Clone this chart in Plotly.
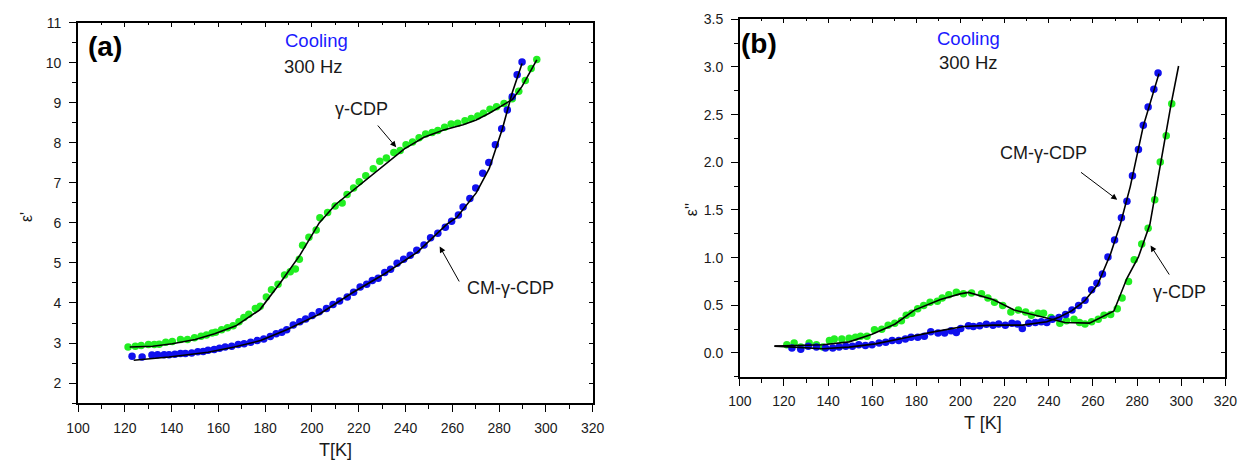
import plotly.graph_objects as go

W, H = 1257, 464

# ---------------- Panel (a): epsilon' ----------------
ga_T = [121.4,124.5,127.0,130.1,132.6,134.7,137.5,140.3,143.8,146.8,149.8,152.6,154.9,157.3,158.8,161.4,163.9,166.3,168.8,170.9,
        173.0,175.8,177.9,180.5,182.7,185.5,188.3,190.7,192.9,194.6,196.0,
        198.7,201.8,203.4,206.7,209.9,212.9,215.0,217.8,220.2,223.0,226.2,229.0,231.8,235.0,237.7,240.2,243.0,245.8,248.6,251.4,
        253.8,256.7,259.5,262.3,265.4,268.1,270.9,273.3,276.1,278.9,282.1,285.6,288.4,291.2,293.7,296.1]
ga_v = [2.90,2.92,2.94,2.96,2.96,2.97,3.02,3.04,3.09,3.09,3.13,3.17,3.20,3.25,3.27,3.33,3.38,3.43,3.53,3.64,
        3.72,3.86,3.92,4.15,4.33,4.47,4.70,4.78,4.85,5.09,5.44,
        5.64,5.82,6.13,6.26,6.42,6.50,6.71,6.87,7.03,7.18,7.35,7.54,7.62,7.76,7.81,7.95,8.02,8.13,8.22,8.26,
        8.31,8.39,8.47,8.49,8.55,8.61,8.67,8.74,8.84,8.90,8.98,9.10,9.29,9.56,9.86,10.08]

ba_T = [123.1,127.4,131.6,134.0,136.8,138.9,141.4,143.8,145.9,148.6,151.2,153.5,155.6,158.2,160.5,162.9,165.7,168.5,171.0,173.8,
        176.6,179.4,182.2,184.7,187.1,189.2,
        192.0,194.8,197.3,200.1,203.1,206.2,209.0,211.8,215.1,217.8,220.6,223.4,225.8,228.3,231.1,233.6,236.4,239.2,242.0,244.8,
        247.9,250.7,253.8,257.0,
        259.7,262.6,264.6,267.5,270.0,273.0,275.6,278.4,281.1,283.5,285.6,287.7,289.8]
ba_v = [2.67,2.65,2.70,2.71,2.71,2.71,2.72,2.74,2.74,2.75,2.78,2.79,2.82,2.84,2.87,2.90,2.92,2.96,2.98,3.02,
        3.06,3.10,3.16,3.23,3.27,3.33,
        3.45,3.53,3.60,3.69,3.78,3.86,3.96,4.05,4.15,4.27,4.40,4.47,4.56,4.62,4.76,4.84,4.99,5.09,5.19,5.32,
        5.45,5.63,5.74,5.89,
        6.04,6.20,6.40,6.61,6.87,7.24,7.51,7.95,8.35,8.82,9.15,9.70,10.02]

fit_ga_T = [122.1,131.9,140.3,150.1,158.4,167.5,177.7,186.4,194.8,203.1,210.1,217.1,224.1,231.1,239.5,247.9,256.3,264.6,270.2,275.8,281.4,285.6,289.8,296.1]
fit_ga_v = [2.90,2.92,2.98,3.09,3.23,3.43,3.83,4.50,5.19,6.00,6.46,6.79,7.12,7.46,7.85,8.14,8.32,8.45,8.57,8.74,8.94,9.08,9.41,10.07]

fit_ba_T = [123.8,138.9,155.6,166.8,178.0,189.2,203.1,217.1,231.1,245.1,257.7,261.8,270.2,275.8,281.4,285.6,289.8]
fit_ba_v = [2.57,2.65,2.77,2.90,3.06,3.33,3.72,4.25,4.73,5.27,5.97,6.13,6.75,7.36,8.35,9.25,9.98]

# ---------------- Panel (b): epsilon'' ----------------
gb_T = [121.3,124.6,127.6,131.4,134.7,137.6,140.6,142.8,146.2,149.5,152.4,154.7,157.6,161.0,164.3,167.2,170.2,173.2,175.4,177.9,
        180.6,183.3,186.2,189.5,191.7,194.7,198.1,201.3,205.0,
        209.5,212.4,215.4,219.1,222.8,226.2,229.5,232.1,235.1,237.6,241.0,245.0,248.0,251.4,253.9,256.4,259.4,262.4,265.0,268.0,
        271.0,273.2,276.1,278.7,282.1,285.0,
        288.0,290.5,293.2,295.7]
gb_v = [0.086,0.106,0.062,0.106,0.086,0.062,0.131,0.148,0.148,0.155,0.165,0.175,0.175,0.244,0.250,0.292,0.313,0.337,0.395,0.416,
        0.464,0.498,0.533,0.543,0.577,0.612,0.636,0.622,0.629,
        0.622,0.577,0.533,0.498,0.430,0.450,0.430,0.395,0.416,0.416,0.371,0.313,0.337,0.354,0.320,0.303,0.327,0.354,0.395,0.405,
        0.464,0.577,0.749,0.979,1.144,1.309,
        1.608,2.003,2.278,2.615]

bb_T = [123.6,127.6,131.0,134.7,138.8,142.1,145.0,148.0,151.0,153.9,156.9,159.9,163.1,166.1,169.0,172.0,175.0,177.6,180.6,183.6,
        186.5,189.8,192.8,195.7,198.1,200.1,203.6,205.8,
        208.7,211.7,214.7,217.3,220.3,223.3,225.8,228.0,230.9,233.9,236.6,239.1,241.6,244.6,247.6,250.5,253.5,256.4,259.4,261.8,
        264.3,266.8,269.8,
        272.9,275.4,277.9,280.6,282.8,285.0,287.6,289.5]
bb_v = [0.052,0.038,0.072,0.062,0.052,0.052,0.062,0.072,0.072,0.086,0.079,0.086,0.106,0.113,0.131,0.131,0.148,0.165,0.165,0.175,
        0.223,0.209,0.209,0.233,0.216,0.258,0.285,0.278,
        0.285,0.302,0.292,0.303,0.292,0.313,0.303,0.258,0.313,0.320,0.327,0.320,0.354,0.371,0.405,0.450,0.498,0.553,0.663,0.732,
        0.828,1.007,1.186,
        1.419,1.591,1.859,2.134,2.388,2.581,2.766,2.938]

fit_gb_T = [115.7,137.6,149.5,159.9,170.2,179.1,190.9,199.8,203.6,214.7,224.3,236.9,247.3,258.4,269.5,275.4,280.6,285.8,291.7,295.4,298.8]
fit_gb_v = [0.072,0.086,0.117,0.196,0.302,0.450,0.560,0.620,0.636,0.560,0.450,0.381,0.320,0.313,0.440,0.784,1.007,1.350,2.140,2.610,3.010]

fit_bb_T = [115.7,137.6,149.5,161.4,176.2,186.5,201.3,214.7,228.0,239.1,244.3,250.2,256.1,262.1,268.0,272.4,276.9,282.8,289.9]
fit_bb_v = [0.072,0.045,0.062,0.096,0.165,0.216,0.278,0.292,0.292,0.327,0.371,0.440,0.543,0.715,1.040,1.350,1.745,2.380,2.930]

GREEN = "#22ee22"
BLUE = "#1010ee"
FONT = "Liberation Sans, Arial, sans-serif"
INK = "#1a1a1a"

fig = go.Figure()

def pts(x, y, color, xa, ya):
    fig.add_trace(go.Scatter(x=x, y=y, mode="markers", xaxis=xa, yaxis=ya,
                             marker=dict(size=7.5, color=color, line=dict(width=0)),
                             showlegend=False, hoverinfo="skip"))

def fit(x, y, xa, ya):
    fig.add_trace(go.Scatter(x=x, y=y, mode="lines", xaxis=xa, yaxis=ya,
                             line=dict(color="black", width=1.6),
                             showlegend=False, hoverinfo="skip"))

pts(ga_T, ga_v, GREEN, "x", "y")
pts(ba_T, ba_v, BLUE, "x", "y")
fit(fit_ga_T, fit_ga_v, "x", "y")
fit(fit_ba_T, fit_ba_v, "x", "y")

pts(gb_T, gb_v, GREEN, "x2", "y2")
pts(bb_T, bb_v, BLUE, "x2", "y2")
fit(fit_gb_T, fit_gb_v, "x2", "y2")
fit(fit_bb_T, fit_bb_v, "x2", "y2")

# dummy traces to activate mirror axes (inside ticks on top / right)
for xa, ya in [("x3", "y"), ("x", "y3"), ("x4", "y2"), ("x2", "y4")]:
    fig.add_trace(go.Scatter(x=[None], y=[None], xaxis=xa, yaxis=ya, showlegend=False, hoverinfo="skip"))

xa_dom = [67.3 / W, 592 / W]
ya_dom = [1 - 402 / H, 1 - 15 / H]
xb_dom = [742 / W, 1237 / W]
yb_dom = [1 - 375.3 / H, 1 - 11.5 / H]

tickfont = dict(family=FONT, size=14, color=INK)

def xaxis(dom, anchor):
    return dict(domain=dom, anchor=anchor, range=[100, 320], dtick=20, tick0=100,
                ticks="outside", ticklen=7, tickwidth=1.3, tickcolor="black",
                minor=dict(dtick=10, ticks="outside", ticklen=4, tickwidth=1.1, tickcolor="black"),
                showline=True, linecolor="black", linewidth=1.6, mirror=True,
                showgrid=False, zeroline=False, tickfont=tickfont, ticklabelstandoff=4)

def yaxis(dom, anchor, rng, dtick, minor, fmt):
    return dict(domain=dom, anchor=anchor, range=rng, dtick=dtick, tick0=0,
                ticks="outside", ticklen=7, tickwidth=1.3, tickcolor="black",
                minor=dict(dtick=minor, tick0=0, ticks="outside", ticklen=4, tickwidth=1.1, tickcolor="black"),
                showline=True, linecolor="black", linewidth=1.6, mirror=True,
                showgrid=False, zeroline=False, tickfont=tickfont, tickformat=fmt, ticklabelstandoff=5)

def mirror_x(over, anchor):
    return dict(overlaying=over, anchor=anchor, side="top", range=[100, 320], dtick=20, tick0=100,
                ticks="inside", ticklen=4, tickwidth=1, tickcolor="black",
                minor=dict(dtick=10, ticks="inside", ticklen=2, tickwidth=1, tickcolor="black"),
                showticklabels=False, showline=False, showgrid=False, zeroline=False)

def mirror_y(over, anchor, rng, dtick, minor):
    return dict(overlaying=over, anchor=anchor, side="right", range=rng, dtick=dtick, tick0=0,
                ticks="inside", ticklen=4, tickwidth=1, tickcolor="black",
                minor=dict(dtick=minor, tick0=0, ticks="inside", ticklen=2, tickwidth=1, tickcolor="black"),
                showticklabels=False, showline=False, showgrid=False, zeroline=False)

fig.update_layout(
    width=W, height=H, margin=dict(l=0, r=0, t=0, b=0),
    paper_bgcolor="white", plot_bgcolor="white",
    font=dict(family=FONT, color=INK),
    xaxis=xaxis(xa_dom, "y"),
    yaxis=yaxis(ya_dom, "x", [1.5, 11], 1, 0.5, "d"),
    xaxis2=xaxis(xb_dom, "y2"),
    yaxis2=yaxis(yb_dom, "x2", [-0.25, 3.5], 0.5, 0.25, ".1f"),
    xaxis3=mirror_x("x", "y"),
    yaxis3=mirror_y("y", "x", [1.5, 11], 1, 0.5),
    xaxis4=mirror_x("x2", "y2"),
    yaxis4=mirror_y("y2", "x2", [-0.25, 3.5], 0.5, 0.25),
)

ann = []
def ptext(txt, x, y, size, color=INK, bold=False, xanchor="center", angle=0):
    t = f"<b>{txt}</b>" if bold else txt
    ann.append(dict(text=t, x=x / W, y=1 - y / H, xref="paper", yref="paper", showarrow=False,
                    xanchor=xanchor, yanchor="middle", textangle=angle,
                    font=dict(family=FONT, size=size, color=color)))

def dtext(txt, x, y, xr, yr, size=18):
    ann.append(dict(text=txt, x=x, y=y, xref=xr, yref=yr, showarrow=False,
                    xanchor="center", yanchor="middle", font=dict(family=FONT, size=size, color=INK)))

def arrow(x_head, y_head, x_tail, y_tail, xr, yr):
    ann.append(dict(text="", x=x_head, y=y_head, ax=x_tail, ay=y_tail, xref=xr, yref=yr,
                    axref=xr, ayref=yr, showarrow=True, arrowhead=2, arrowsize=1.2,
                    arrowwidth=1, arrowcolor="black"))

# panel (a)
ptext("(a)", 95, 39, 28, color="black", bold=True)
ptext("Cooling", 276.5, 33.5, 18.5, color="#1a1aff", xanchor="left")
ptext("300 Hz", 275, 60, 18.5, xanchor="left")
ptext("T[K]", 329.5, 450, 18)
ptext("ε'", 15, 213, 16, angle=-90)
dtext("γ-CDP", 221.3, 8.84, "x", "y")
arrow(236.0, 7.89, 227.6, 8.47, "x", "y")
dtext("CM-γ-CDP", 284.9, 4.37, "x", "y")
arrow(254.6, 5.41, 263.3, 4.50, "x", "y")

# panel (b)
ptext("(b)", 761.5, 36, 28, color="black", bold=True)
ptext("Cooling", 941, 30.7, 18.5, color="#1a1aff", xanchor="left")
ptext("300 Hz", 942.5, 55, 18.5, xanchor="left")
ptext("T [K]", 989.5, 422.7, 18)
ptext("ε''", 693, 205, 16, angle=-90)
dtext("CM-γ-CDP", 237.6, 2.10, "x2", "y2")
arrow(271.0, 1.608, 253.9, 1.907, "x2", "y2")
dtext("γ-CDP", 299.1, 0.636, "x2", "y2")
arrow(286.1, 1.127, 295.0, 0.807, "x2", "y2")

fig.update_layout(annotations=ann)
fig.write_html("out.html")
